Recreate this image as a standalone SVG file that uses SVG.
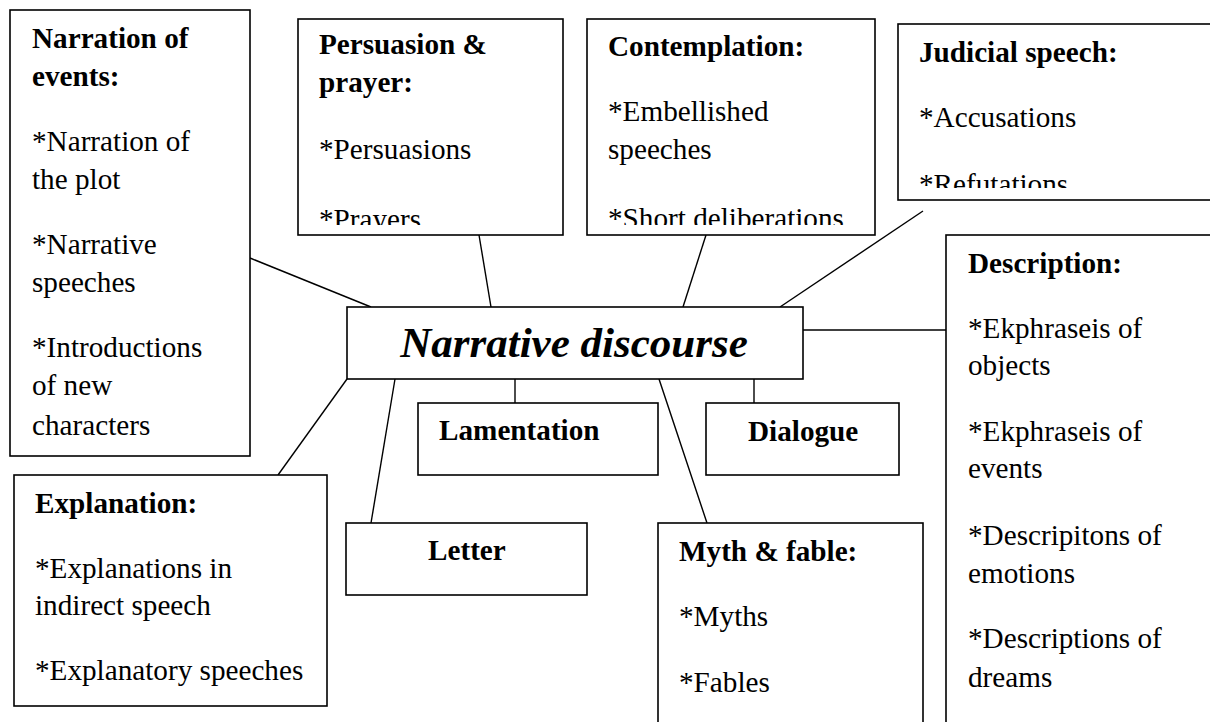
<svg xmlns="http://www.w3.org/2000/svg" width="1210" height="722" viewBox="0 0 1210 722">
<style>
.box{fill:#fff;stroke:#000;stroke-width:1.6}
.ln{stroke:#000;stroke-width:1.4;fill:none}
.t{font-family:"Liberation Serif","Times New Roman",serif;font-size:29.2px;fill:#000}
.b{font-weight:bold}
.title{font-family:"Liberation Serif","Times New Roman",serif;font-size:43px;font-weight:bold;font-style:italic;fill:#000}
</style>
<defs>
<clipPath id="cPers"><rect x="298" y="19" width="265" height="206"/></clipPath>
<clipPath id="cCont"><rect x="587" y="19" width="288" height="206"/></clipPath>
<clipPath id="cJud"><rect x="898" y="24" width="320" height="164"/></clipPath>
</defs>
<rect width="1210" height="722" fill="#fff"/>
<g id="connectors">
<line class="ln" x1="250" y1="258" x2="371" y2="307"/>
<line class="ln" x1="479" y1="235" x2="491" y2="307"/>
<line class="ln" x1="706" y1="235" x2="683" y2="307"/>
<line class="ln" x1="923" y1="211" x2="780" y2="307"/>
<line class="ln" x1="803" y1="330" x2="946" y2="330"/>
<line class="ln" x1="347" y1="379" x2="278" y2="475"/>
<line class="ln" x1="395" y1="379" x2="371" y2="523"/>
<line class="ln" x1="515" y1="379" x2="515" y2="403"/>
<line class="ln" x1="659" y1="379" x2="707" y2="523"/>
<line class="ln" x1="754" y1="379" x2="754" y2="403"/>
</g>
<g id="narration">
<rect class="box" x="10" y="10" width="240" height="446"/>
<text class="t b" x="32" y="48">Narration of</text>
<text class="t b" x="32" y="86">events:</text>
<text class="t" x="32" y="151">*Narration of</text>
<text class="t" x="32" y="189">the plot</text>
<text class="t" x="32" y="254">*Narrative</text>
<text class="t" x="32" y="292">speeches</text>
<text class="t" x="32" y="357">*Introductions</text>
<text class="t" x="32" y="395">of new</text>
<text class="t" x="32" y="435">characters</text>
</g>
<g id="persuasion">
<rect class="box" x="298" y="19" width="265" height="216"/>
<g clip-path="url(#cPers)">
<text class="t b" x="319" y="54">Persuasion &amp;</text>
<text class="t b" x="319" y="92">prayer:</text>
<text class="t" x="319" y="159">*Persuasions</text>
<text class="t" x="319" y="229">*Prayers</text>
</g>
</g>
<g id="contemplation">
<rect class="box" x="587" y="19" width="288" height="216"/>
<g clip-path="url(#cCont)">
<text class="t b" x="608" y="56">Contemplation:</text>
<text class="t" x="608" y="121">*Embellished</text>
<text class="t" x="608" y="159">speeches</text>
<text class="t" x="608" y="228">*Short deliberations</text>
</g>
</g>
<g id="judicial">
<rect class="box" x="898" y="24" width="330" height="176"/>
<g clip-path="url(#cJud)">
<text class="t b" x="919" y="62">Judicial speech:</text>
<text class="t" x="919" y="127">*Accusations</text>
<text class="t" x="919" y="194">*Refutations</text>
</g>
</g>
<g id="center">
<rect class="box" x="347" y="307" width="456" height="72"/>
<text class="title" x="574" y="357" text-anchor="middle">Narrative discourse</text>
</g>
<g id="description">
<rect class="box" x="946" y="235" width="300" height="520"/>
<text class="t b" x="968" y="273">Description:</text>
<text class="t" x="968" y="338">*Ekphraseis of</text>
<text class="t" x="968" y="375">objects</text>
<text class="t" x="968" y="441">*Ekphraseis of</text>
<text class="t" x="968" y="478">events</text>
<text class="t" x="968" y="545">*Descripitons of</text>
<text class="t" x="968" y="583">emotions</text>
<text class="t" x="968" y="648">*Descriptions of</text>
<text class="t" x="968" y="687">dreams</text>
</g>
<g id="lamentation">
<rect class="box" x="418" y="403" width="240" height="72"/>
<text class="t b" x="439" y="440">Lamentation</text>
</g>
<g id="dialogue">
<rect class="box" x="706" y="403" width="193" height="72"/>
<text class="t b" x="748" y="441">Dialogue</text>
</g>
<g id="explanation">
<rect class="box" x="14" y="475" width="313" height="231"/>
<text class="t b" x="35" y="513">Explanation:</text>
<text class="t" x="35" y="578">*Explanations in</text>
<text class="t" x="35" y="615">indirect speech</text>
<text class="t" x="35" y="680">*Explanatory speeches</text>
</g>
<g id="letter">
<rect class="box" x="346" y="523" width="241" height="72"/>
<text class="t b" x="428" y="560">Letter</text>
</g>
<g id="myth">
<rect class="box" x="658" y="523" width="265" height="230"/>
<text class="t b" x="679" y="561">Myth &amp; fable:</text>
<text class="t" x="679" y="626">*Myths</text>
<text class="t" x="679" y="692">*Fables</text>
</g>
</svg>
